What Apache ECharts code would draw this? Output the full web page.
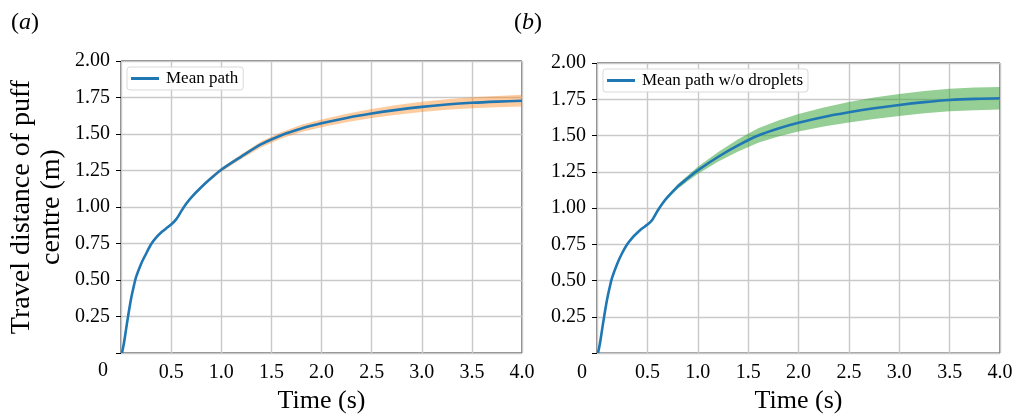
<!DOCTYPE html>
<html>
<head>
<meta charset="utf-8">
<script src="https://cdn.jsdelivr.net/npm/echarts@6/dist/echarts.min.js"></script>
<style>
html,body{margin:0;padding:0;background:#fff;}
#chart{width:1019px;height:419px;}
</style>
</head>
<body>
<div id="chart"></div>
<script>
// ---- data ----
const timeS = [0.01,0.03,0.05,0.075,0.1,0.125,0.15,0.2,0.25,0.3,0.35,0.4,0.45,0.5,0.55,0.6,0.65,0.7,0.8,0.9,1.0,1.2,1.4,1.6,1.8,2.0,2.25,2.5,2.75,3.0,3.25,3.5,3.75,4.0];
const meanPathA = [0,0.07,0.16,0.27,0.37,0.45,0.52,0.61,0.68,0.745,0.79,0.825,0.853,0.88,0.915,0.97,1.022,1.065,1.135,1.198,1.255,1.345,1.43,1.492,1.538,1.573,1.61,1.64,1.665,1.686,1.702,1.714,1.722,1.728];
const bandHalfA = [0.004,0.004,0.004,0.004,0.004,0.004,0.004,0.004,0.004,0.004,0.004,0.004,0.004,0.004,0.005,0.006,0.007,0.008,0.01,0.012,0.014,0.017,0.02,0.022,0.025,0.027,0.029,0.031,0.033,0.035,0.036,0.038,0.039,0.04];
const meanPathB = [0,0.07,0.16,0.27,0.37,0.45,0.52,0.615,0.69,0.75,0.795,0.83,0.86,0.886,0.92,0.98,1.032,1.075,1.148,1.205,1.26,1.352,1.432,1.5,1.549,1.588,1.628,1.66,1.688,1.711,1.73,1.745,1.753,1.757];
const bandHalfB = [0.005,0.005,0.005,0.005,0.005,0.005,0.005,0.005,0.005,0.005,0.005,0.005,0.005,0.005,0.006,0.008,0.01,0.012,0.016,0.02,0.025,0.033,0.042,0.05,0.055,0.06,0.066,0.071,0.074,0.076,0.077,0.077,0.078,0.078];
const panelTitles = ['a','b'];
const legendNames = ['Mean path','Mean path w/o droplets'];
const xName = 'Time (s)';
const yName = 'Travel distance of puff\ncentre (m)';

const FONT = 'Liberation Serif';
const pairs = (ys) => timeS.map((t,i)=>[t, ys[i]]);

const grids = [
  {left:121, top:61, width:401, height:292},
  {left:597, top:63, width:403, height:293}
];

function xAxisFor(i){
  return {
    type:'value', gridIndex:i, min:0, max:4, interval:0.5,
    name:xName, nameLocation:'middle', nameGap: i===0?35:32,
    nameTextStyle:{fontFamily:FONT, fontSize:26, color:'#000'},
    axisLine:{show:false}, axisTick:{show:false},
    axisLabel:{fontFamily:FONT, fontSize:20, color:'#000', margin:10,
      formatter:(v)=> v===0 ? '' : v.toFixed(1)},
    splitLine:{show:true, lineStyle:{color:'#c9c9c9', width:1.4}}
  };
}
function yAxisFor(i){
  const ax = {
    type:'value', gridIndex:i, min:0, max:2, interval:0.25,
    axisLine:{show:false},
    axisTick:{show:true, length:5, lineStyle:{color:'#000', width:1}},
    axisLabel:{fontFamily:FONT, fontSize:20, color:'#000', margin:11,
      formatter:(v)=> v===0 ? '' : v.toFixed(2)},
    splitLine:{show:true, lineStyle:{color:'#c9c9c9', width:1.4}}
  };
  if(i===0){
    ax.name = yName; ax.nameLocation='middle'; ax.nameGap=54; ax.nameRotate=90;
    ax.nameTextStyle = {fontFamily:FONT, fontSize:28, color:'#000', lineHeight:30};
  }
  return ax;
}

// band drawn as a polygon through the axis scales (api.coord)
function bandSeries(i, m, h, color){
  return {
    type:'custom', xAxisIndex:i, yAxisIndex:i, silent:true, z:2, clip:true,
    data: timeS.map((t,k)=>[t, m[k]-h[k], m[k]+h[k]]),
    renderItem:function(params, api){
      if(params.dataIndex !== 0) return null;
      const up = timeS.map((t,k)=>api.coord([t, m[k]+h[k]]));
      const lo = timeS.map((t,k)=>api.coord([t, m[k]-h[k]])).reverse();
      return {type:'polygon', shape:{points: up.concat(lo)}, style:{fill:color, stroke:null}};
    }
  };
}
function meanSeries(i, m){
  return {type:'line', name:legendNames[i], xAxisIndex:i, yAxisIndex:i, data:pairs(m),
    symbol:'none', smooth:0.3, color:'#1f77b4', itemStyle:{color:'#1f77b4'},
    lineStyle:{color:'#1f77b4', width:2.6}, z:3};
}

function legendFor(i){
  return {
    data:[{name:legendNames[i], icon:'rect'}],
    left: i===0?127:603, top: i===0?67:69,
    orient:'horizontal', itemWidth:28, itemHeight:3,
    padding:[3,5,3,4], backgroundColor:'rgba(255,255,255,0.85)',
    borderColor:'#d9d9d9', borderWidth:1, borderRadius:3,
    textStyle:{fontFamily:FONT, fontSize:17, color:'#000', padding:[0,0,0,2]},
    selectedMode:false
  };
}

function titleFor(i){
  return {
    text:'{p|(}{i|'+panelTitles[i]+'}{p|)}', left: i===0?6:509, top:6,
    textStyle:{fontWeight:'normal', rich:{
      p:{fontFamily:FONT, fontSize:24, fontWeight:'normal', color:'#000'},
      i:{fontFamily:FONT, fontSize:24, fontWeight:'normal', fontStyle:'italic', color:'#000'}
    }}
  };
}

const chart = echarts.init(document.getElementById('chart'), null, {renderer:'canvas'});
chart.setOption({
  animation:false,
  backgroundColor:'#fff',
  title:[titleFor(0), titleFor(1)],
  legend:[legendFor(0), legendFor(1)],
  grid: grids.map(g=>Object.assign({show:true, borderColor:'#111', borderWidth:1, backgroundColor:'transparent'}, g)),
  xAxis:[xAxisFor(0), xAxisFor(1)],
  yAxis:[yAxisFor(0), yAxisFor(1)],
  series:[
    bandSeries(0, meanPathA, bandHalfA, 'rgba(255,127,14,0.4)'),
    meanSeries(0, meanPathA),
    bandSeries(1, meanPathB, bandHalfB, 'rgba(44,160,44,0.5)'),
    meanSeries(1, meanPathB)
  ],
  graphic:[
    {type:'text', left:98, top:361, style:{text:'0', fontFamily:FONT, fontSize:20, fill:'#000'}},
    {type:'text', left:577, top:363, style:{text:'0', fontFamily:FONT, fontSize:20, fill:'#000'}}
  ]
});
</script>
</body>
</html>
